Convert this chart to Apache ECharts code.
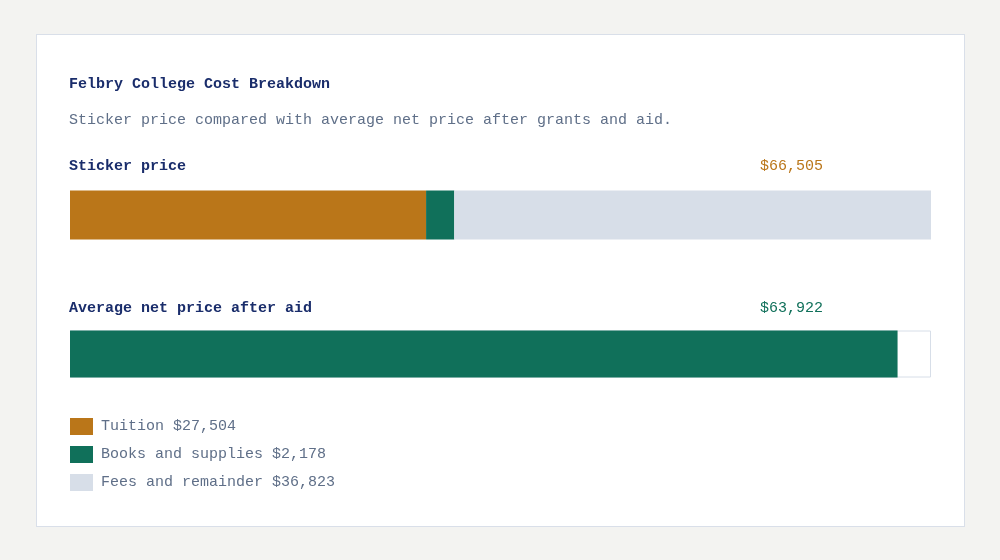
<!DOCTYPE html>
<html>
<head>
<meta charset="utf-8">
<script src="https://cdn.jsdelivr.net/npm/echarts@6/dist/echarts.min.js"></script>
<style>
  html, body { margin: 0; padding: 0; background: #f3f3f1; }
  #card { position: absolute; left: 36px; top: 34px; width: 927px; height: 491px; background: #ffffff; border: 1px solid #d9dfe9; }
  #chart { position: absolute; left: 0; top: 0; width: 1000px; height: 560px; }
</style>
</head>
<body>
<div id="card"></div>
<div id="chart"></div>
<script>
const titleText = 'Felbry College Cost Breakdown';
const subtitleText = 'Sticker price compared with average net price after grants and aid.';
const rows = ['Sticker price', 'Average net price after aid'];
const componentNames = ['Tuition', 'Books and supplies', 'Fees and remainder'];
const componentValues = [27504, 2178, 36823];
const stickerTotal = 66505;
const netPrice = 63922;

const FONT = '"Liberation Mono", "DejaVu Sans Mono", monospace';
const colors = ['#ba7619', '#10705a', '#d7dee8'];
const fmt = v => '$' + v.toLocaleString('en-US');

const legendNames = componentNames.map((n, i) => n + ' ' + fmt(componentValues[i]));

const series = componentNames.map((n, i) => ({
  name: legendNames[i],
  type: 'bar',
  stack: 'sticker',
  barWidth: 49,
  barGap: '-100%',
  itemStyle: { color: colors[i] },
  data: [componentValues[i], null],
  silent: true
}));
series.push({
  name: 'backdrop',
  type: 'bar',
  barWidth: 47,
  barGap: '-100%',
  itemStyle: { color: '#ffffff', borderColor: '#d7dee8', borderWidth: 1 },
  data: [null, stickerTotal],
  silent: true,
  z: 1
});
series.push({
  name: 'net',
  type: 'bar',
  barWidth: 47,
  barGap: '-100%',
  itemStyle: { color: colors[1] },
  data: [null, netPrice],
  silent: true,
  z: 3
});

const chart = echarts.init(document.getElementById('chart'), null, { renderer: 'canvas' });
chart.setOption({
  animation: false,
  backgroundColor: 'transparent',
  textStyle: { fontFamily: FONT },
  grid: { left: 70, right: 69, top: 144, height: 280 },
  xAxis: { type: 'value', min: 0, max: stickerTotal, show: false },
  yAxis: { type: 'category', data: rows, inverse: true, show: false },
  legend: {
    data: legendNames,
    orient: 'vertical',
    left: 70,
    top: 418,
    padding: 0,
    itemWidth: 23,
    itemHeight: 17,
    itemGap: 11,
    icon: 'rect',
    selectedMode: false,
    textStyle: { fontFamily: FONT, fontSize: 15, color: '#5f6f88', padding: [0, 0, 0, 3] }
  },
  series: series
});

const y0 = chart.convertToPixel({ yAxisIndex: 0 }, rows[0]);
const y1 = chart.convertToPixel({ yAxisIndex: 0 }, rows[1]);
const xL = chart.convertToPixel({ xAxisIndex: 0 }, 0);
const valueColors = [colors[0], colors[1]];
const totals = [stickerTotal, netPrice];
const labelYs = [y0 - 48, y1 - 46];

const graphics = [
  { type: 'text', left: 69, top: 77, style: { text: titleText, font: 'bold 15px ' + FONT, fill: '#1a2d6b' } },
  { type: 'text', left: 69, top: 113, style: { text: subtitleText, font: '15px ' + FONT, fill: '#5f6f88' } }
];
rows.forEach((r, i) => {
  graphics.push({ type: 'text', x: xL - 1, y: labelYs[i], style: { text: r, font: 'bold 15px ' + FONT, fill: '#1a2d6b', verticalAlign: 'middle', align: 'left' } });
  graphics.push({ type: 'text', x: 823, y: labelYs[i], style: { text: fmt(totals[i]), font: '15px ' + FONT, fill: valueColors[i], verticalAlign: 'middle', align: 'right' } });
});
chart.setOption({ graphic: graphics });
</script>
</body>
</html>
